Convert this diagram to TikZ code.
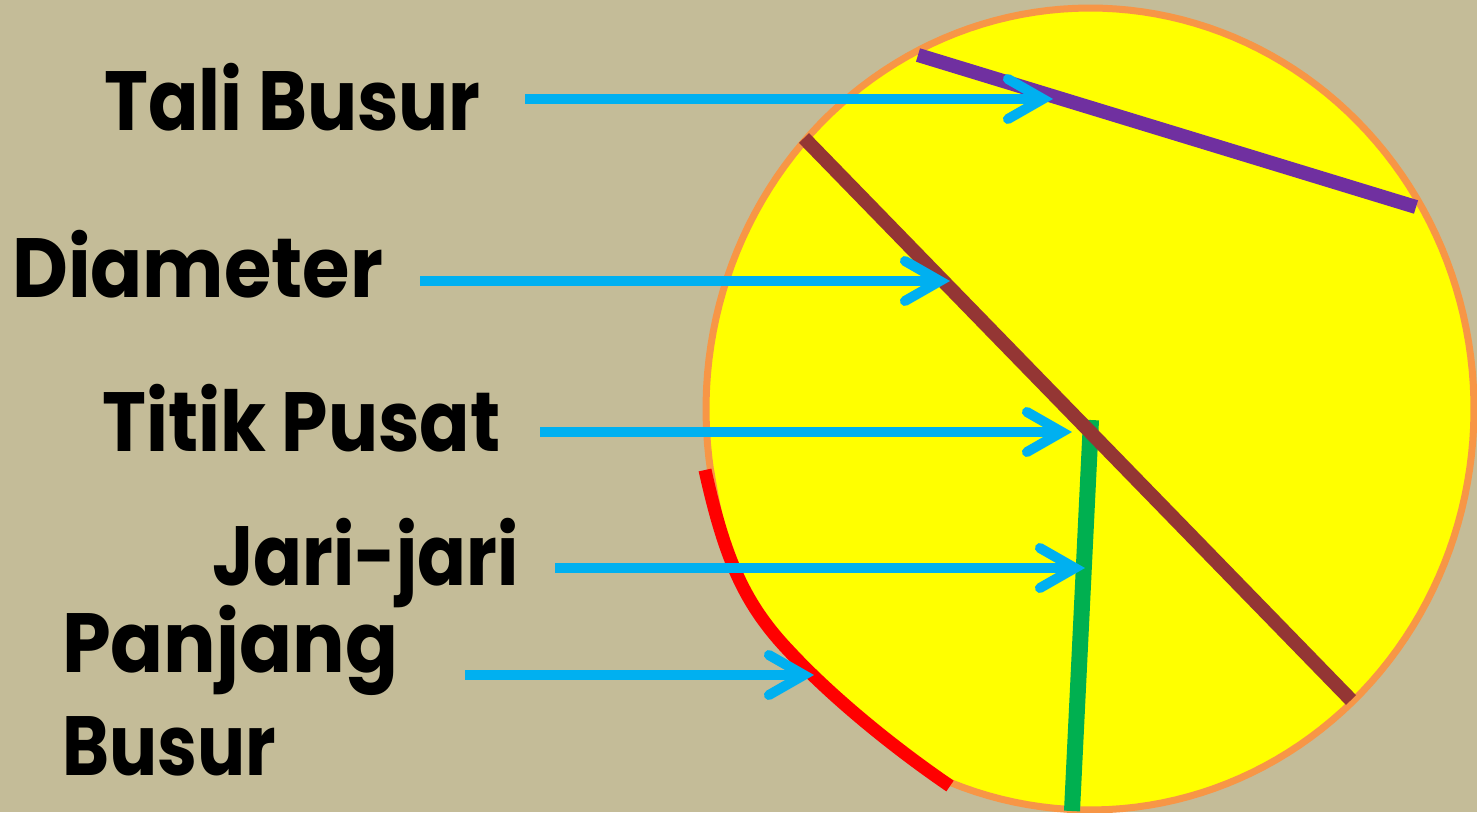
\documentclass[tikz,border=0pt]{standalone}
\usepackage{graphicx}
\usepackage{fontspec}
\setmainfont{Poppins}
\usetikzlibrary{arrows.meta}
\definecolor{bg}{HTML}{C4BC98}
\definecolor{disc}{HTML}{FFFF00}
\definecolor{rim}{HTML}{F79646}
\definecolor{ptrc}{HTML}{00B0F0}
\definecolor{chordc}{HTML}{7030A0}
\definecolor{diamc}{HTML}{943634}
\definecolor{radc}{HTML}{00B050}
\definecolor{arcc}{HTML}{FF0000}
\newcommand\lbltxt[2][0.885]{\scalebox{#1}[1]{#2}}
\begin{document}
\begin{tikzpicture}[x=1pt,y=-1pt,
  lbl/.style={anchor=base west, inner sep=0pt, font=\fontsize{84}{90}\selectfont\bfseries},
  ptr/.style={draw=ptrc, line width=10pt, -{Straight Barb[length=35pt,width=40pt,line cap=round,line join=miter]}},
  seg/.style={line width=14pt}]
\fill[bg] (0,0) rectangle (1477,812);
\useasboundingbox (0,0) rectangle (1477,812);
% disc
\path[fill=disc, draw=rim, line width=7pt]
  plot[domain=171:471.4, samples=150, variable=\t] ({1090+384*cos(\t)},{409+401*sin(\t)})
  .. controls (890,745) and (830,695) .. (790,652)
  .. controls (745,605) and (725,560) .. (711,472) -- cycle;
% arc length (red)
\coordinate (r1) at (705,470);
\coordinate (r2) at (790,652);
\coordinate (r3) at (950,786);
\draw[arcc, line width=13pt] (r1) .. controls (725,560) and (745,605) .. (r2)
  .. controls (830,695) and (890,745) .. (r3);
% chord
\coordinate (c1) at (918,55);
\coordinate (c2) at (1416,207);
\draw[chordc, seg] (c1) -- (c2);
% radius
\coordinate (g1) at (1091,420);
\coordinate (g2) at (1072,811);
\draw[radc, line width=16pt] (g1) -- (g2);
% diameter
\coordinate (d1) at (804,138);
\coordinate (d2) at (1351,700);
\draw[diamc, seg] (d1) -- (d2);
% labels
\node[lbl] (tali) at (104,130) {\lbltxt{Tali Busur}};
\node[lbl] (diam) at (12,297) {\lbltxt[0.915]{Diameter}};
\node[lbl] (titik) at (102,451) {\lbltxt{Titik Pusat}};
\node[lbl] (jari) at (212,585) {\lbltxt[0.857]{Jari-jari}};
\node[lbl] (panj) at (62,672) {\lbltxt[0.93]{Panjang}};
\node[lbl] (busur) at (62,775) {\lbltxt[0.85]{Busur}};
% arrow ends
\coordinate (a1s) at (525,99);  \coordinate (a1e) at (1053,99);
\coordinate (a2s) at (420,281); \coordinate (a2e) at (950,281);
\coordinate (a3s) at (540,432); \coordinate (a3e) at (1072,432);
\coordinate (a4s) at (555,568); \coordinate (a4e) at (1085,568);
\coordinate (a5s) at (465,675); \coordinate (a5e) at (814,675);
\draw[ptr] (a1s) -- (a1e);
\draw[ptr] (a2s) -- (a2e);
\draw[ptr] (a3s) -- (a3e);
\draw[ptr] (a4s) -- (a4e);
\draw[ptr] (a5s) -- (a5e);
\end{tikzpicture}
\end{document}
